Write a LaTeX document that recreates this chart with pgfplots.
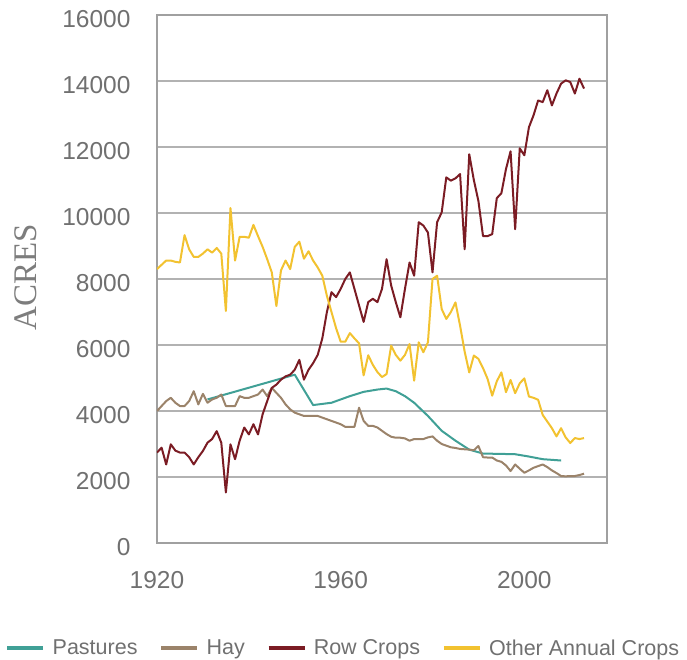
\documentclass[border=0pt]{standalone}
\usepackage{fontspec}
\setmainfont{Liberation Sans}
\newfontfamily\acresfont{Liberation Serif}
\usepackage{pgfplots}
\usepackage{pgfplotstable}
\pgfplotsset{compat=1.18}
\definecolor{pasture}{RGB}{64,160,150}
\definecolor{hay}{RGB}{155,131,106}
\definecolor{rowcrop}{RGB}{123,28,36}
\definecolor{otherann}{RGB}{242,194,48}
\definecolor{gridgray}{RGB}{178,178,178}
\definecolor{framegray}{RGB}{160,160,160}
\definecolor{ticktext}{RGB}{112,112,112}
\definecolor{labeltext}{RGB}{125,125,125}

\pgfplotstableread{
year val
1931 4350
1950 5100
1954 4180
1958 4250
1962 4450
1965 4580
1968 4650
1970 4680
1972 4600
1974 4450
1976 4250
1979 3850
1982 3400
1985 3100
1988 2830
1991 2710
1995 2700
1998 2690
2001 2620
2004 2540
2008 2500
}\pasturedata

\pgfplotstableread{
year val
1920 4000
1921 4150
1922 4300
1923 4400
1924 4250
1925 4150
1926 4150
1927 4300
1928 4600
1929 4200
1930 4520
1931 4250
1932 4350
1933 4400
1934 4500
1935 4150
1936 4150
1937 4150
1938 4450
1939 4400
1940 4400
1941 4450
1942 4500
1943 4650
1944 4450
1945 4700
1946 4550
1947 4400
1948 4200
1949 4050
1950 3950
1951 3900
1952 3850
1953 3850
1954 3850
1955 3850
1956 3800
1957 3750
1958 3700
1959 3650
1960 3600
1961 3520
1962 3520
1963 3520
1964 4100
1965 3700
1966 3550
1967 3550
1968 3500
1969 3400
1970 3300
1971 3220
1972 3190
1973 3190
1974 3170
1975 3100
1976 3150
1977 3150
1978 3150
1979 3200
1980 3230
1981 3100
1982 3000
1983 2950
1984 2900
1985 2880
1986 2850
1987 2840
1988 2830
1989 2810
1990 2940
1991 2600
1992 2590
1993 2590
1994 2500
1995 2460
1996 2350
1997 2180
1998 2380
1999 2250
2000 2130
2001 2200
2002 2280
2003 2330
2004 2380
2005 2300
2006 2200
2007 2120
2008 2030
2009 2020
2010 2030
2011 2030
2012 2060
2013 2100
}\haydata

\pgfplotstableread{
year val
1920 2740
1921 2890
1922 2380
1923 2990
1924 2800
1925 2740
1926 2740
1927 2600
1928 2380
1929 2600
1930 2790
1931 3040
1932 3150
1933 3390
1934 3040
1935 1530
1936 2990
1937 2540
1938 3100
1939 3500
1940 3290
1941 3600
1942 3290
1943 3900
1944 4300
1945 4700
1946 4800
1947 4950
1948 5050
1949 5100
1950 5250
1951 5550
1952 4950
1953 5250
1954 5450
1955 5700
1956 6200
1957 7000
1958 7600
1959 7450
1960 7700
1961 8000
1962 8200
1963 7700
1964 7200
1965 6700
1966 7300
1967 7400
1968 7300
1969 7700
1970 8600
1971 7800
1972 7300
1973 6840
1974 7700
1975 8500
1976 8100
1977 9720
1978 9620
1979 9410
1980 8200
1981 9720
1982 10020
1983 11080
1984 10980
1985 11050
1986 11180
1987 8900
1988 11780
1989 11000
1990 10360
1991 9300
1992 9300
1993 9360
1994 10450
1995 10600
1996 11330
1997 11870
1998 9510
1999 11960
2000 11750
2001 12600
2002 12960
2003 13410
2004 13360
2005 13720
2006 13260
2007 13620
2008 13920
2009 14020
2010 13970
2011 13620
2012 14070
2013 13770
}\rowdata

\pgfplotstableread{
year val
1920 8300
1921 8430
1922 8560
1923 8560
1924 8520
1925 8500
1926 9330
1927 8900
1928 8670
1929 8670
1930 8770
1931 8900
1932 8800
1933 8940
1934 8770
1935 7030
1936 10150
1937 8560
1938 9280
1939 9280
1940 9250
1941 9640
1942 9300
1943 8975
1944 8600
1945 8200
1946 7180
1947 8260
1948 8560
1949 8300
1950 8975
1951 9130
1952 8615
1953 8840
1954 8560
1955 8350
1956 8100
1957 7490
1958 7000
1959 6510
1960 6100
1961 6100
1962 6360
1963 6200
1964 6050
1965 5080
1966 5690
1967 5400
1968 5180
1969 5030
1970 5120
1971 5980
1972 5700
1973 5525
1974 5700
1975 6030
1976 4920
1977 6080
1978 5780
1979 6080
1980 8000
1981 8100
1982 7090
1983 6790
1984 7000
1985 7290
1986 6590
1987 5800
1988 5170
1989 5680
1990 5580
1991 5300
1992 4970
1993 4465
1994 4900
1995 5170
1996 4570
1997 4940
1998 4540
1999 4840
2000 4990
2001 4440
2002 4400
2003 4340
2004 3880
2005 3680
2006 3480
2007 3230
2008 3480
2009 3200
2010 3030
2011 3180
2012 3150
2013 3180
}\otherdata

\begin{document}
\begin{tikzpicture}
\useasboundingbox (-157pt,-116pt) rectangle (530pt,543pt);
\begin{axis}[
  at={(0pt,0pt)}, anchor=south west,
  scale only axis, width=450pt, height=528pt,
  xmin=1920, xmax=2018, ymin=0, ymax=16000,
  xtick={1920,1960,2000}, ytick={0,2000,...,16000},
  major tick length=0pt,
  ymajorgrids, grid style={color=gridgray, line width=1.2pt},
  axis line style={color=framegray, line width=1.6pt},
  tick label style={font=\fontsize{24.5}{27}\selectfont, text=ticktext},
  /pgf/number format/assume math mode=true,
  /pgf/number format/set thousands separator={},
  scaled y ticks=false,
  xticklabel style={yshift=-25pt},
  yticklabel style={xshift=-23pt, yshift=-4pt},
  ylabel={ACRES},
  ylabel style={font=\acresfont\fontsize{33}{36}\selectfont, text=labeltext,
    at={(axis description cs:-0.291,0.504)}, anchor=center},
  legend columns=4,
  legend image code/.code={\draw[line width=4.5pt] (0pt,0pt) -- (36pt,0pt);},
  legend style={at={(-0.3378,-0.1989)}, anchor=west, draw=none, fill=none,
    inner sep=0pt, font=\fontsize{21.5}{24}\selectfont, text=ticktext,
    /tikz/every odd column/.append style={column sep=5pt},
    /tikz/every even column/.append style={column sep=19.5pt}},
  every axis plot/.append style={line width=2pt, line join=round},
]
\addplot[pasture, no markers] table[x=year,y=val] {\pasturedata};
\addlegendentry{Pastures}
\addplot[hay, no markers] table[x=year,y=val] {\haydata};
\addlegendentry{Hay}
\addplot[rowcrop, no markers] table[x=year,y=val] {\rowdata};
\addlegendentry{Row Crops}
\addplot[otherann, no markers] table[x=year,y=val] {\otherdata};
\addlegendentry{Other Annual Crops}
\end{axis}
\end{tikzpicture}
\end{document}
